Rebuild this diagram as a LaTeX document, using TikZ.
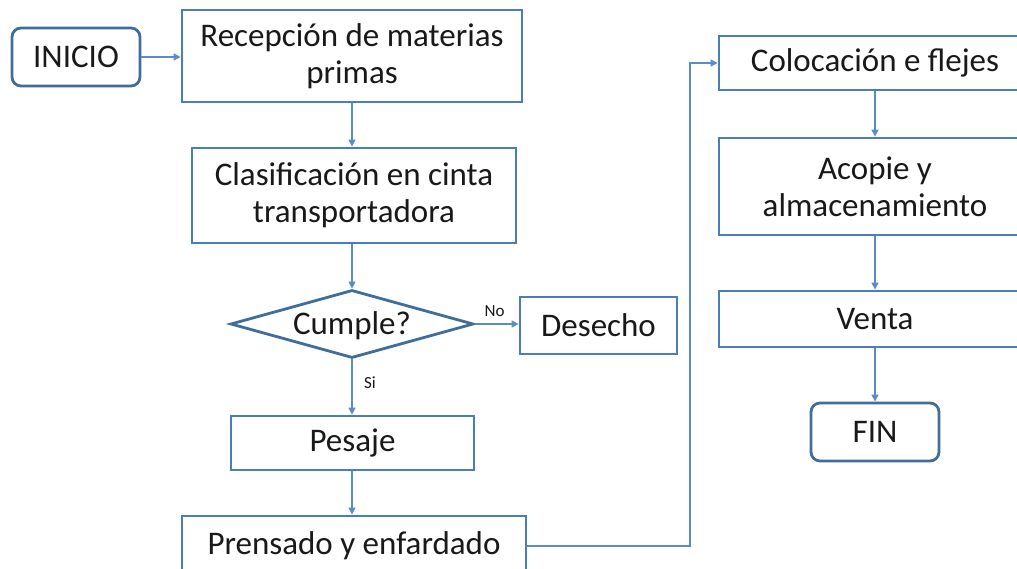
\documentclass[tikz,border=0pt]{standalone}
\usepackage{fontspec}
\setmainfont{Carlito}
\usetikzlibrary{arrows.meta,shapes.geometric}
\definecolor{boxblue}{HTML}{4A7EBB}
\definecolor{termblue}{HTML}{3F6D9C}
\definecolor{lineblue}{HTML}{5B8BC9}
\begin{document}
\begin{tikzpicture}[x=1pt,y=-1pt,
  txt/.style={font=\fontsize{33}{37}\selectfont,text=black!90},
  stepbox/.style={txt,draw=boxblue,line width=2.8pt,fill=white,rectangle,inner sep=0pt,align=center},
  termbox/.style={txt,draw=termblue,line width=2.8pt,fill=white,rectangle,rounded corners=9pt,inner sep=0pt},
  decbox/.style={txt,draw=termblue,line width=2.8pt,fill=white,diamond,inner sep=0pt},
  conn/.style={draw=lineblue,line width=1.5pt,-{Triangle[length=7pt,width=7pt]}},
  lbl/.style={font=\fontsize{17}{19}\selectfont,text=black!90}
]
\useasboundingbox (0,0) rectangle (1017,569);
% left column
\node[termbox,minimum width=128pt,minimum height=58pt] (inicio) at (76,57) {INICIO};
\node[stepbox,minimum width=340pt,minimum height=92pt] (recep) at (352,56) {Recepción de materias\\primas};
\node[stepbox,minimum width=324pt,minimum height=95pt] (clasif) at (354,195.5) {Clasificación en cinta\\transportadora};
\node[decbox,minimum width=243pt,minimum height=68pt] (cumple) at (352,324) {\smash{\makebox[0pt]{\raisebox{-0.33em}{Cumple?}}}};
\node[stepbox,minimum width=157pt,minimum height=57pt] (desecho) at (598.5,325.5) {Desecho};
\node[stepbox,minimum width=243pt,minimum height=54pt] (pesaje) at (352.5,443) {Pesaje};
\node[stepbox,minimum width=344pt,minimum height=60pt] (prensado) at (354,546) {Prensado y enfardado};
% right column
\node[stepbox,minimum width=312pt,minimum height=54pt] (coloc) at (875,63) {Colocación e flejes};
\node[stepbox,minimum width=312pt,minimum height=97pt] (acopie) at (875,186.5) {Acopie y\\almacenamiento};
\node[stepbox,minimum width=312pt,minimum height=56pt] (venta) at (875,319) {Venta};
\node[termbox,minimum width=128pt,minimum height=58pt] (fin) at (875,432) {FIN};
\coordinate (b1) at (690,546);
\coordinate (b2) at (690,63);
% connectors
\draw[conn] (inicio.east) -- (recep.west|-inicio.east);
\draw[conn] (recep.south-|cumple.north) -- (clasif.north-|cumple.north);
\draw[conn] (clasif.south-|cumple.north) -- (cumple.north);
\draw[conn] (cumple.east) -- (desecho.west|-cumple.east) node[lbl,pos=0.45,above=3pt] {No};
\draw[conn] (cumple.south) -- (pesaje.north-|cumple.south) node[lbl,pos=0.42,right=8pt] {Si};
\draw[conn] (pesaje.south-|cumple.south) -- (prensado.north-|cumple.south);
\draw[conn] (prensado.east) -- (b1) -- (b2) -- (coloc.west);
\draw[conn] (coloc.south) -- (acopie.north);
\draw[conn] (acopie.south) -- (venta.north);
\draw[conn] (venta.south) -- (fin.north);
\end{tikzpicture}
\end{document}
